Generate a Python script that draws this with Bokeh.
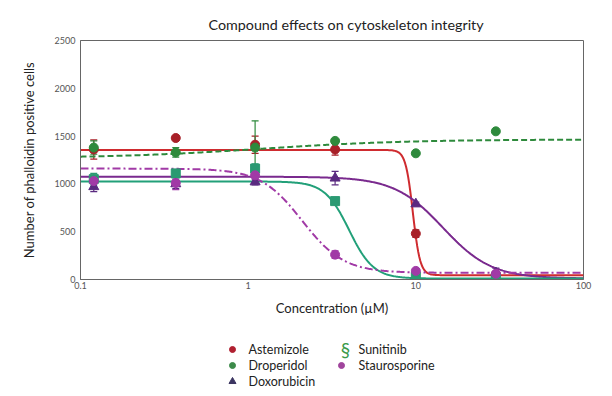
import numpy as np
from bokeh.plotting import figure
from bokeh.layouts import column
from bokeh.models import Range1d, FixedTicker, CustomJSTickFormatter, Whisker, TeeHead, ColumnDataSource
from bokeh.core.properties import value
from bokeh.embed import file_html
from bokeh.resources import INLINE

FONT = "Lato"

# ---- data ----
conc = [0.12, 0.37, 1.1, 3.3, 10, 30]

astemizole = [1360, 1480, 1410, 1360, 480, 55]
astemizole_err = [100, 0, 90, 60, 40, 0]
droperidol = [1380, 1330, 1380, 1450, 1320, 1550]
droperidol_err = [70, 50, 280, 0, 0, 0]
doxorubicin = [970, 1000, 1020, 1060, 790, 70]
doxorubicin_err = [50, 50, 30, 70, 20, 50]
sunitinib = [1050, 1110, 1160, 820, 30, 15]
sunitinib_err = [60, 30, 50, 20, 0, 0]
staurosporine = [1030, 1010, 1090, 260, 90, 60]
staurosporine_err = [60, 70, 30, 40, 20, 20]

# fitted 4-parameter logistic curves: [low-conc plateau, high-conc plateau, IC50, Hill]
fit_astemizole = [1355, 45, 9.6, 20]
fit_droperidol = [1270, 1465, 1.2, 1.0]
fit_doxorubicin = [1075, 10, 14.5, 3.0]
fit_sunitinib = [1025, 10, 4.0, 6.0]
fit_staurosporine = [1160, 70, 2.1, 3.5]

x_ticks = [0.1, 1, 10, 100]
y_ticks = [0, 500, 1000, 1500, 2000, 2500]

names = ["Astemizole", "Droperidol", "Doxorubicin", "Sunitinib", "Staurosporine"]

# ---- styling ----
line_col = {"Astemizole": "#cf2b2f", "Droperidol": "#2e8a3c", "Doxorubicin": "#7a2a8e",
            "Sunitinib": "#22a079", "Staurosporine": "#a13aa6"}
mark_col = {"Astemizole": "#a82028", "Droperidol": "#2e8a3c", "Doxorubicin": "#5a2a80",
            "Sunitinib": "#2a9a72", "Staurosporine": "#a13aa6"}
dash = {"Astemizole": "solid", "Droperidol": "6 3", "Doxorubicin": "solid",
        "Sunitinib": "solid", "Staurosporine": "8 3 2 3"}
marker = {"Astemizole": "circle", "Droperidol": "circle", "Doxorubicin": "triangle",
          "Sunitinib": "square", "Staurosporine": "circle"}

series = {"Astemizole": (astemizole, astemizole_err, fit_astemizole),
          "Droperidol": (droperidol, droperidol_err, fit_droperidol),
          "Doxorubicin": (doxorubicin, doxorubicin_err, fit_doxorubicin),
          "Sunitinib": (sunitinib, sunitinib_err, fit_sunitinib),
          "Staurosporine": (staurosporine, staurosporine_err, fit_staurosporine)}

p = figure(width=604, height=330, x_axis_type="log",
           x_range=Range1d(0.1, 100), y_range=Range1d(0, 2500),
           output_backend="svg", toolbar_location=None,
           min_border_left=80, min_border_right=21, min_border_top=40, min_border_bottom=51)

p.title.text = "Compound effects on cytoskeleton integrity"
p.title.align = "left"
p.title.offset = 128
p.title.text_font = FONT
p.title.text_font_size = "14.3px"
p.title.text_font_style = "normal"
p.title.text_color = "#222222"
p.title.standoff = 16

p.xgrid.visible = False
p.ygrid.visible = False
p.outline_line_color = "#666666"
p.outline_line_width = 1

p.xaxis.ticker = FixedTicker(ticks=x_ticks)
p.xaxis.formatter = CustomJSTickFormatter(code="return String(tick);")
p.yaxis.ticker = FixedTicker(ticks=y_ticks)
for ax in (p.xaxis[0], p.yaxis[0]):
    ax.major_tick_line_color = None
    ax.minor_tick_line_color = None
    ax.major_tick_out = 0
    ax.major_tick_in = 0
    ax.minor_tick_out = 0
    ax.minor_tick_in = 0
    ax.axis_line_color = "#666666"
    ax.major_label_text_font = FONT
    ax.major_label_text_font_size = "9px"
    ax.major_label_text_color = "#555555"
    ax.axis_label_text_font = FONT
    ax.axis_label_text_font_size = "13px"
    ax.axis_label_text_font_style = "normal"
    ax.axis_label_text_color = "#222222"
p.xaxis.axis_label = "Concentration (µM)"
p.yaxis.axis_label = "Number of phalloidin positive cells"
p.xaxis.major_label_standoff = 2
p.yaxis.major_label_standoff = 5
p.xaxis.axis_label_standoff = 8
p.yaxis.axis_label_standoff = 15

xs = np.logspace(-1, 2, 500)
for n in names:
    ys, err, (a, d, c, b) = series[n]
    curve = d + (a - d) / (1 + (xs / c) ** b)
    p.line(xs, curve, line_color=line_col[n], line_width=2, line_dash=dash[n])

for n in names:
    ys, err, fit = series[n]
    xe = [x for x, e in zip(conc, err) if e > 0]
    ye = [y for y, e in zip(ys, err) if e > 0]
    ee = [e for e in err if e > 0]
    src = ColumnDataSource(dict(x=xe, lo=[y - e for y, e in zip(ye, ee)], hi=[y + e for y, e in zip(ye, ee)]))
    w = Whisker(source=src, base="x", lower="lo", upper="hi", dimension="height",
                line_color=mark_col[n], line_width=1.2,
                upper_head=TeeHead(size=7, line_color=mark_col[n], line_width=1.2),
                lower_head=TeeHead(size=7, line_color=mark_col[n], line_width=1.2))
    p.add_layout(w)
    p.scatter(conc, ys, marker=marker[n], size=9 if marker[n] != "triangle" else 10,
              fill_color=mark_col[n], line_color=mark_col[n])

# ---- legend panel (frame aligned with the main frame, coordinates in page pixels) ----
lg = figure(width=604, height=62, x_range=Range1d(80, 583), y_range=Range1d(62, 0),
            output_backend="svg", toolbar_location=None,
            x_axis_location=None, y_axis_location=None,
            min_border_left=80, min_border_right=21,
            min_border_top=0, min_border_bottom=0, outline_line_color=None)
lg.grid.visible = False

leg_col1 = ["Astemizole", "Droperidol", "Doxorubicin"]
leg_col1_colors = ["#b02030", "#3c8a4a", "#3b3561"]
leg_col1_markers = ["circle", "circle", "triangle"]
leg_col1_sizes = [6, 6, 7]
leg_y = [19, 35, 51]
lg.scatter([232] * 3, leg_y, marker=leg_col1_markers, size=leg_col1_sizes,
           fill_color=leg_col1_colors, line_color=leg_col1_colors)
lg.text([248] * 3, leg_y, text=leg_col1, text_font=value(FONT), text_font_size="12.5px",
        text_baseline="middle", text_color="#222222")

lg.text([345], [19], text=["§"], text_font=value(FONT), text_font_size="19px",
        text_baseline="middle", text_align="center", text_color="#3a9a4a")
lg.scatter([341], [35], marker="circle", size=6, fill_color="#a0449c", line_color="#a0449c")
lg.text([358, 358], [19, 35], text=["Sunitinib", "Staurosporine"], text_font=value(FONT),
        text_font_size="12.5px", text_baseline="middle", text_color="#222222")

layout = column(p, lg, spacing=0)
open("out.html", "w").write(file_html(layout, INLINE))
